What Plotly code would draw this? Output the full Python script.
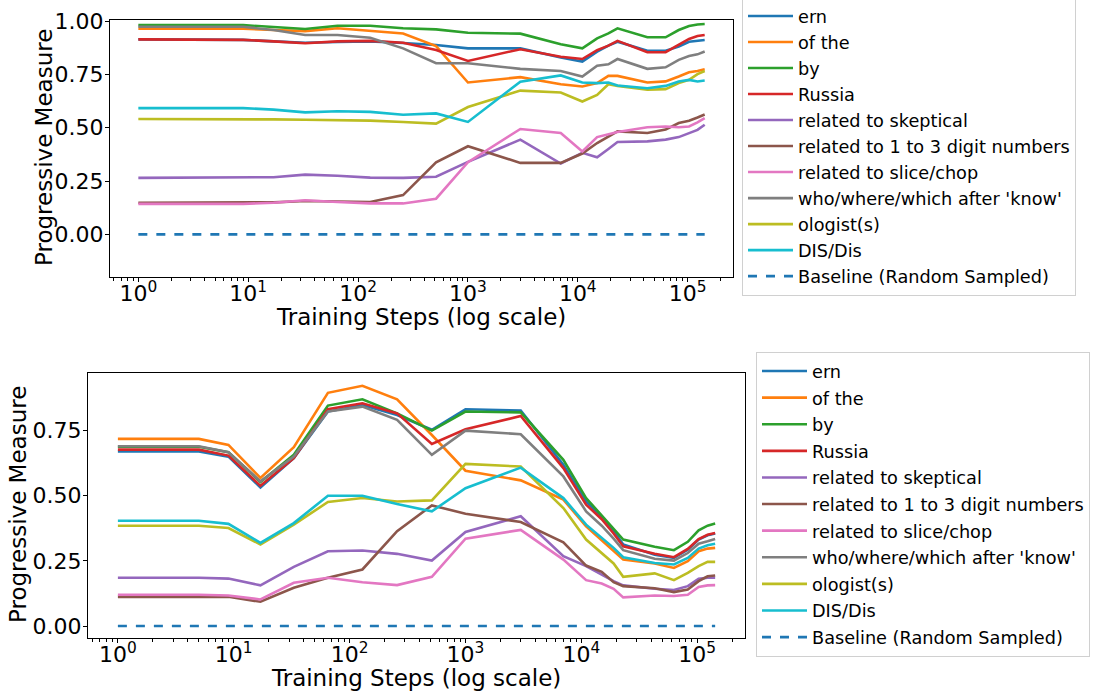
import plotly.graph_objects as go

W, H = 1097, 692

steps = [1, 2, 3, 5, 9, 17, 33, 65, 129, 257, 513, 1001, 3001, 7001, 11001, 15001,
         19001, 23001, 43001, 63001, 83001, 103001, 123001, 143001]

labels = ["ern", "of the", "by", "Russia", "related to skeptical",
          "related to 1 to 3 digit numbers", "related to slice/chop",
          "who/where/which after 'know'", "ologist(s)", "DIS/Dis"]
colors = ["#1f77b4", "#ff7f0e", "#2ca02c", "#d62728", "#9467bd",
          "#8c564b", "#e377c2", "#7f7f7f", "#bcbd22", "#17becf"]

# ---- top panel ----
top_ern = [0.914, 0.914, 0.914, 0.914, 0.912, 0.905, 0.898, 0.902, 0.905, 0.897, 0.888, 0.872,
           0.872, 0.829, 0.810, 0.857, 0.885, 0.903, 0.861, 0.861, 0.880, 0.903, 0.908, 0.911]
top_of_the = [0.964, 0.964, 0.964, 0.964, 0.964, 0.958, 0.953, 0.966, 0.953, 0.942, 0.883, 0.712,
              0.737, 0.704, 0.693, 0.709, 0.743, 0.743, 0.712, 0.717, 0.740, 0.760, 0.766, 0.774]
top_by = [0.981, 0.981, 0.981, 0.981, 0.981, 0.972, 0.963, 0.978, 0.978, 0.966, 0.961, 0.945,
          0.941, 0.891, 0.872, 0.919, 0.942, 0.966, 0.924, 0.924, 0.958, 0.977, 0.984, 0.986]
top_russia = [0.914, 0.914, 0.914, 0.914, 0.912, 0.905, 0.896, 0.905, 0.907, 0.898, 0.864, 0.813,
              0.868, 0.833, 0.822, 0.864, 0.885, 0.907, 0.854, 0.854, 0.888, 0.916, 0.930, 0.935]
top_skeptical = [0.265, 0.265, 0.265, 0.265, 0.266, 0.268, 0.280, 0.275, 0.266, 0.265, 0.270, 0.340,
                 0.444, 0.332, 0.382, 0.361, 0.400, 0.433, 0.436, 0.444, 0.456, 0.475, 0.490, 0.514]
top_digits = [0.148, 0.148, 0.148, 0.148, 0.148, 0.150, 0.156, 0.154, 0.152, 0.184, 0.338, 0.413,
              0.335, 0.335, 0.379, 0.428, 0.458, 0.483, 0.475, 0.491, 0.522, 0.533, 0.548, 0.562]
top_slice = [0.143, 0.143, 0.143, 0.143, 0.143, 0.148, 0.160, 0.152, 0.145, 0.145, 0.167, 0.338,
             0.494, 0.475, 0.389, 0.456, 0.468, 0.480, 0.502, 0.506, 0.502, 0.506, 0.525, 0.545]
top_know = [0.973, 0.973, 0.973, 0.973, 0.973, 0.958, 0.935, 0.935, 0.922, 0.872, 0.802, 0.802,
            0.776, 0.766, 0.740, 0.791, 0.797, 0.822, 0.776, 0.783, 0.818, 0.836, 0.844, 0.857]
top_ologist = [0.541, 0.541, 0.541, 0.541, 0.540, 0.539, 0.537, 0.535, 0.533, 0.527, 0.519, 0.597,
               0.674, 0.665, 0.623, 0.654, 0.704, 0.696, 0.678, 0.681, 0.709, 0.724, 0.751, 0.766]
top_dis = [0.592, 0.592, 0.592, 0.592, 0.592, 0.585, 0.572, 0.577, 0.574, 0.561, 0.567, 0.527,
           0.716, 0.745, 0.712, 0.709, 0.712, 0.698, 0.685, 0.696, 0.717, 0.724, 0.717, 0.721]

# ---- bottom panel ----
bot_ern = [0.670, 0.670, 0.670, 0.670, 0.650, 0.532, 0.644, 0.823, 0.848, 0.810, 0.753, 0.832,
           0.827, 0.619, 0.478, 0.420, 0.365, 0.313, 0.274, 0.261, 0.293, 0.332, 0.348, 0.355]
bot_of_the = [0.718, 0.718, 0.718, 0.718, 0.695, 0.568, 0.686, 0.895, 0.922, 0.870, 0.733, 0.596,
              0.559, 0.485, 0.383, 0.330, 0.290, 0.255, 0.240, 0.223, 0.249, 0.287, 0.297, 0.300]
bot_by = [0.688, 0.688, 0.688, 0.688, 0.667, 0.553, 0.657, 0.846, 0.870, 0.816, 0.750, 0.823,
          0.820, 0.638, 0.491, 0.425, 0.372, 0.332, 0.304, 0.291, 0.323, 0.367, 0.385, 0.393]
bot_russia = [0.677, 0.677, 0.677, 0.677, 0.654, 0.538, 0.644, 0.832, 0.855, 0.816, 0.699, 0.755,
              0.806, 0.606, 0.466, 0.410, 0.355, 0.306, 0.277, 0.264, 0.296, 0.334, 0.350, 0.357]
bot_skeptical = [0.185, 0.185, 0.185, 0.185, 0.182, 0.156, 0.227, 0.287, 0.290, 0.277, 0.251, 0.361,
                 0.421, 0.268, 0.230, 0.198, 0.172, 0.156, 0.143, 0.138, 0.153, 0.181, 0.185, 0.185]
bot_digits = [0.112, 0.112, 0.112, 0.112, 0.112, 0.093, 0.147, 0.185, 0.217, 0.364, 0.463, 0.431,
              0.399, 0.321, 0.232, 0.208, 0.168, 0.153, 0.145, 0.130, 0.140, 0.172, 0.191, 0.194]
bot_slice = [0.120, 0.120, 0.120, 0.120, 0.117, 0.102, 0.166, 0.185, 0.168, 0.157, 0.189, 0.335,
             0.369, 0.255, 0.176, 0.163, 0.143, 0.110, 0.117, 0.115, 0.120, 0.150, 0.156, 0.157]
bot_know = [0.690, 0.690, 0.690, 0.690, 0.667, 0.555, 0.650, 0.823, 0.842, 0.791, 0.657, 0.750,
            0.736, 0.574, 0.440, 0.385, 0.335, 0.291, 0.258, 0.251, 0.280, 0.316, 0.325, 0.334]
bot_ologist = [0.385, 0.385, 0.385, 0.385, 0.376, 0.313, 0.389, 0.476, 0.491, 0.478, 0.482, 0.622,
               0.612, 0.453, 0.332, 0.280, 0.240, 0.189, 0.202, 0.176, 0.204, 0.230, 0.246, 0.246]
bot_dis = [0.404, 0.404, 0.404, 0.404, 0.392, 0.319, 0.395, 0.500, 0.500, 0.468, 0.440, 0.529,
           0.608, 0.491, 0.389, 0.340, 0.300, 0.264, 0.242, 0.236, 0.261, 0.297, 0.310, 0.316]

baseline = [0.0, 0.0, 0.0, 0.0, 0.0, 0.0, 0.0, 0.0, 0.0, 0.0, 0.0, 0.0,
            0.0, 0.0, 0.0, 0.0, 0.0, 0.0, 0.0, 0.0, 0.0, 0.0, 0.0, 0.0]

top_series = [top_ern, top_of_the, top_by, top_russia, top_skeptical, top_digits,
              top_slice, top_know, top_ologist, top_dis]
bot_series = [bot_ern, bot_of_the, bot_by, bot_russia, bot_skeptical, bot_digits,
              bot_slice, bot_know, bot_ologist, bot_dis]

xtick_vals = [1, 10, 100, 1000, 10000, 100000]
xtick_text = ["10<sup>0</sup>", "10<sup>1</sup>", "10<sup>2</sup>",
              "10<sup>3</sup>", "10<sup>4</sup>", "10<sup>5</sup>"]
minor_vals = [m * 10 ** k for k in range(-1, 6) for m in range(2, 10)]

FONT = "DejaVu Sans"
LW = 2.6

fig = go.Figure()
for panel, (series, xa, ya, lg) in enumerate([(top_series, "x", "y", "legend"),
                                               (bot_series, "x2", "y2", "legend2")]):
    for i, (lab, vals) in enumerate(zip(labels, series)):
        fig.add_trace(go.Scatter(x=steps, y=vals, mode="lines", name=lab,
                                 line=dict(color=colors[i], width=LW),
                                 xaxis=xa, yaxis=ya, legend=lg,
                                 legendgroup=f"p{panel}_{i}"))
    fig.add_trace(go.Scatter(x=steps, y=baseline, mode="lines",
                             name="Baseline (Random Sampled)",
                             line=dict(color="#1f77b4", width=LW, dash="dash"),
                             xaxis=xa, yaxis=ya, legend=lg,
                             legendgroup=f"p{panel}_base"))

def xaxis_cfg(domain, anchor):
    return dict(domain=domain, anchor=anchor, type="log", range=[-0.258, 5.413],
                showline=True, mirror=True, linecolor="black", linewidth=1,
                ticks="outside", ticklen=4, tickwidth=1, tickcolor="black",
                tickvals=xtick_vals, ticktext=xtick_text, ticklabelstandoff=-7,
                tickfont=dict(family=FONT, size=22, color="black"),
                showgrid=False, zeroline=False, automargin=False,
                minor=dict(tickvals=minor_vals, ticks="outside", ticklen=2.5,
                           tickwidth=0.8, tickcolor="black", showgrid=False))

def yaxis_cfg(domain, anchor, rng):
    return dict(domain=domain, anchor=anchor, range=rng,
                showline=True, mirror=True, linecolor="black", linewidth=1,
                ticks="outside", ticklen=4, tickwidth=1, tickcolor="black",
                tickvals=[0, 0.25, 0.5, 0.75, 1.0], tickformat=".2f",
                ticklabelstandoff=-3,
                tickfont=dict(family=FONT, size=22, color="black"),
                showgrid=False, zeroline=False, automargin=False)

legend_common = dict(bgcolor="rgba(255,255,255,0.8)", bordercolor="#d0d0d0", borderwidth=1,
                     font=dict(family=FONT, size=17.7, color="black"),
                     xanchor="left", yanchor="top", itemwidth=45)

title_font = dict(family=FONT, size=23, color="black")
annotations = [
    dict(text="Progressive Measure", x=44 / W, y=1 - 148 / H, xref="paper", yref="paper",
         xanchor="center", yanchor="middle", textangle=-90, showarrow=False, font=title_font),
    dict(text="Progressive Measure", x=18 / W, y=1 - 505 / H, xref="paper", yref="paper",
         xanchor="center", yanchor="middle", textangle=-90, showarrow=False, font=title_font),
    dict(text="Training Steps (log scale)", x=421 / W, y=1 - 317 / H, xref="paper", yref="paper",
         xanchor="center", yanchor="middle", showarrow=False, font=title_font),
    dict(text="Training Steps (log scale)", x=416 / W, y=1 - 678 / H, xref="paper", yref="paper",
         xanchor="center", yanchor="middle", showarrow=False, font=title_font),
]

fig.update_layout(
    width=W, height=H, margin=dict(l=0, r=0, t=0, b=0, autoexpand=False),
    paper_bgcolor="white", plot_bgcolor="white",
    font=dict(family=FONT, color="black"),
    xaxis=xaxis_cfg([110 / W, 733 / W], "y"),
    yaxis=yaxis_cfg([1 - 277 / H, 1 - 20 / H], "x", [-0.2, 1.005]),
    xaxis2=xaxis_cfg([88 / W, 745 / W], "y2"),
    yaxis2=yaxis_cfg([1 - 638 / H, 1 - 373 / H], "x2", [-0.046, 0.971]),
    legend=dict(x=742 / W, y=1 + 3 / H, tracegroupgap=0, **legend_common),
    legend2=dict(x=756 / W, y=1 - 352 / H, tracegroupgap=0.6, **legend_common),
    annotations=annotations,
    showlegend=True,
)

fig.write_html("out.html", config={"displayModeBar": False},
               post_script="document.body.style.margin='0px';")
